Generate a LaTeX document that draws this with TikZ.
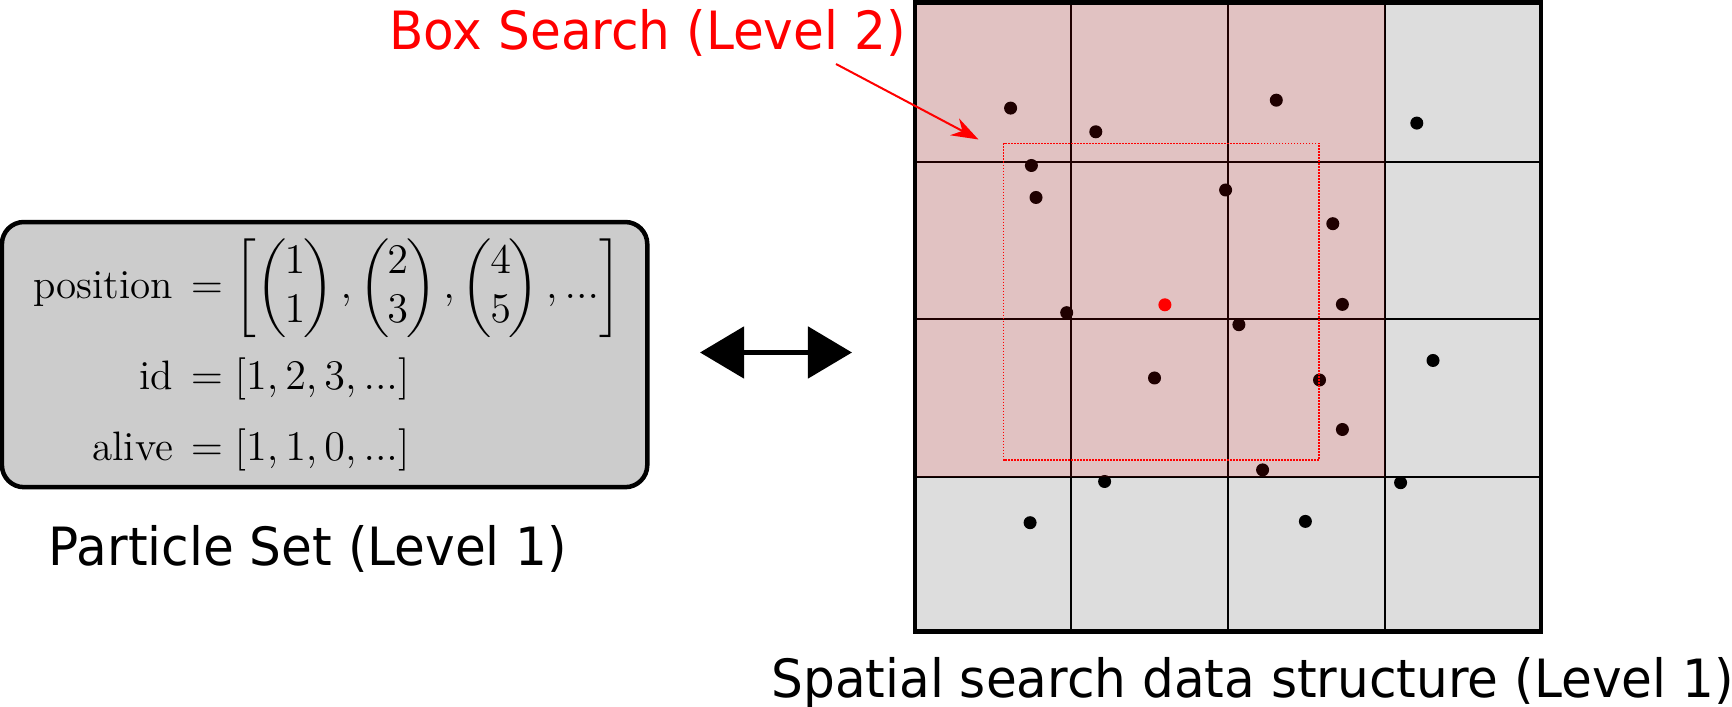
\documentclass[tikz,border=0pt]{standalone}
\usepackage{amsmath,amssymb}
\usepackage{fontspec}
\usepackage{tikz}
\usetikzlibrary{arrows.meta}
\newfontfamily\labelfont{DejaVu Sans}[FakeStretch=0.95]
\definecolor{CellGrey}{RGB}{221,221,221}
\definecolor{BoxGrey}{RGB}{204,204,204}
\definecolor{SearchRed}{RGB}{255,0,0}
\newcommand{\vecpair}[2]{\left(\mkern-0.85mu\begin{matrix} #1\\ #2 \end{matrix}\mkern-0.85mu\right)}
\tikzset{
  caption/.style={font=\labelfont\fontsize{15}{18}\selectfont, anchor=base, inner sep=0pt},
  psetbox/.style={draw, fill=BoxGrey, line width=0.045cm, rounded corners=0.22cm, minimum width=6.45cm, minimum height=2.65cm, inner sep=0pt},
  psetdata/.style={inner sep=0pt, font=\fontsize{11.7}{14}\selectfont},
  cellline/.style={line width=0.02cm},
  particle/.style={fill=black, radius=0.065cm},
  swaparrow/.style={line width=0.05cm, {Triangle[length=0.44cm,width=0.51cm]}-{Triangle[length=0.44cm,width=0.51cm]}},
  pointer/.style={SearchRed, line width=0.02cm, -{Stealth[length=0.27cm,width=0.19cm]}},
  searchrange/.style={SearchRed, line width=0.015cm, dash pattern=on 0.015cm off 0.015cm}
}

\begin{document}
\begin{tikzpicture}[x=0.01cm,y=-0.01cm]
    \useasboundingbox (0,0) rectangle (1732,707);

    % Particle set
    \node[psetbox] (pset) at (324.6,354.6) {};
    \node[psetdata] (psetvals) at (327,357) {$\begin{aligned}
        \text{position} &\mkern2.5mu= \left[ \vecpair{1}{1}, \vecpair{2}{3}, \vecpair{4}{5}, ... \right] \\[1pt]
        \text{id} &\mkern2.5mu= [1, 2, 3, ...] \\[3pt]
        \text{alive} &\mkern2.5mu= [1, 1, 0, ...]
    \end{aligned}$};
    \node[caption] (psetlbl) at (308,566) {Particle Set (Level 1)};

    % Two way link
    \coordinate (swapL) at (700,352.5);
    \coordinate (swapR) at (852,352.5);
    \draw[swaparrow] (swapL) -- (swapR);

    % Cells
    \fill[CellGrey] (915,2.5) rectangle (1541,631.5);
    \foreach \gx in {1071,1228,1384.5}
        \draw[cellline] (\gx,2.5) -- (\gx,631.5);
    \foreach \gy in {162.5,319.5,477.5}
        \draw[cellline] (915,\gy) -- (1541,\gy);

    % Particles
    \foreach \px/\py in {1010.6/108.1, 1095.8/131.8, 1276.3/100.2, 1416.8/123.1,
        1031.4/165.5, 1036/197.5, 1225.6/190, 1332.8/223.7, 1342.4/304.4,
        1066.7/312.7, 1238.9/324.7, 1433/360.5, 1154.5/378, 1319.5/380,
        1342.4/429.5, 1262.6/469.9, 1104.6/481.5, 1400.6/482.7,
        1030.1/522.7, 1305.4/521.4}
        \fill[particle] (\px,\py) circle;

    % Level 2 cells
    \fill[SearchRed, fill opacity=0.12] (915,2.5) rectangle (1384.5,477.5);
    \draw[line width=0.047cm] (915,2.5) rectangle (1541,631.5);

    % Search box
    \fill[particle, SearchRed] (1164.9,304.8) circle;
    \draw[searchrange] (1003.5,143.5) rectangle (1319,460);
    \node[caption, text=SearchRed] (searchlbl) at (647.5,50) {Box Search (Level 2)};
    \coordinate (ptrfrom) at (836,64);
    \coordinate (ptrto) at (978.5,139.5);
    \draw[pointer] (ptrfrom) -- (ptrto);

    \node[caption] (gridlbl) at (1252.6,698) {Spatial search data structure (Level 1)};
\end{tikzpicture}
\end{document}
